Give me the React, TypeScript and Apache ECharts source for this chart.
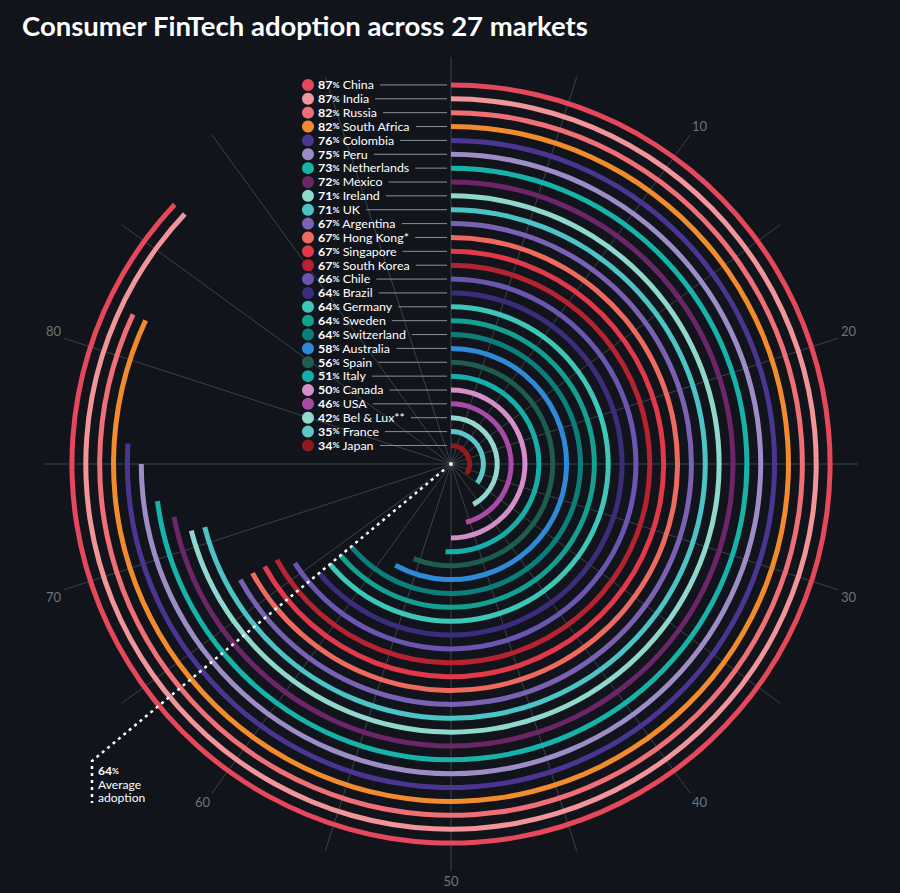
import React, { useEffect, useRef } from "react";
import * as echarts from "echarts";

const countries = [
  "China", "India", "Russia", "South Africa", "Colombia", "Peru", "Netherlands", "Mexico",
  "Ireland", "UK", "Argentina", "Hong Kong*", "Singapore", "South Korea", "Chile", "Brazil",
  "Germany", "Sweden", "Switzerland", "Australia", "Spain", "Italy", "Canada", "USA",
  "Bel & Lux**", "France", "Japan",
];
const adoption = [87, 87, 82, 82, 76, 75, 73, 72, 71, 71, 67, 67, 67, 67, 66, 64, 64, 64, 64, 58, 56, 51, 50, 46, 42, 35, 34];
const colors = [
  "#e5485a", "#f2959a", "#ee6f75", "#f28a2e", "#4a3591", "#9d8dc6", "#17b3a8", "#6b2667",
  "#8fd8cd", "#4cc4c5", "#7a62b3", "#ee6a5f", "#e2394a", "#b52330", "#6a55b0", "#3c2c7c",
  "#3ec6b8", "#13a091", "#0c7e7a", "#2e8ad6", "#1d5c4f", "#16aeaa", "#d48fc8", "#a94aa8",
  "#92d8cf", "#5ec6c9", "#8f1b20",
];
const angleTickLabels = [10, 20, 30, 40, 50, 60, 70, 80];
const averageAdoption = 64;
const averageLines = ["Average", "adoption"];
const title = "Consumer FinTech adoption across 27 markets";

const BG = "#11141b";
const FONT = "Lato, 'Open Sans', sans-serif";

export default function App() {
  const ref = useRef<HTMLDivElement>(null);

  useEffect(() => {
    document.body.style.margin = "0";
    document.body.style.background = BG;
    if (!ref.current) return;
    const chart = echarts.init(ref.current, undefined, { renderer: "svg" });

    const CX = 451;
    const CY = 464;
    const R_IN = 11.6;
    const R_OUT = 386;
    const R_GRID = 407;
    const N = countries.length;
    const band = (R_OUT - R_IN) / N;
    const ringR = (i: number) => R_OUT - (i + 0.5) * band;

    const canvas = document.createElement("canvas");
    const ctx = canvas.getContext("2d")!;
    const measure = (font: string, s: string) => {
      ctx.font = font;
      return ctx.measureText(s).width;
    };

    const graphics: any[] = [];
    graphics.push({
      type: "text",
      left: 22,
      top: 11,
      z: 10,
      style: { text: title, fill: "#ffffff", font: `bold 27.5px ${FONT}` },
    });

    const dotX = 308;
    const textX = 318;
    const SX = 1.08;
    const NUM_FONT = `bold 11.5px ${FONT}`;
    const PCT_FONT = `bold 8px ${FONT}`;
    const NAME_FONT = `11.5px ${FONT}`;
    countries.forEach((name, i) => {
      const y = CY - ringR(i);
      const w =
        (measure(NUM_FONT, String(adoption[i])) +
          measure(PCT_FONT, "%") +
          measure(NAME_FONT, " " + name)) * SX;
      graphics.push({
        type: "line",
        z: 5,
        shape: { x1: textX + w + 6, y1: y, x2: CX - 4, y2: y },
        style: { stroke: "#8b9098", lineWidth: 1 },
      });
      graphics.push({
        type: "circle",
        z: 6,
        shape: { cx: dotX, cy: y, r: 6 },
        style: { fill: colors[i] },
      });
      graphics.push({
        type: "text",
        z: 6,
        x: textX,
        y: y,
        scaleX: SX,
        style: {
          text: `{b|${adoption[i]}}{p|%}{n| ${name}}`,
          verticalAlign: "middle",
          rich: {
            b: { fill: "#ffffff", font: NUM_FONT },
            p: { fill: "#ffffff", font: PCT_FONT },
            n: { fill: "#ffffff", font: NAME_FONT },
          },
        },
      });
    });

    // average annotation
    const ang = (averageAdoption / 100) * Math.PI * 2;
    const dx = Math.sin(ang);
    const dy = -Math.cos(ang);
    const cornerX = 92;
    const t = (CX - cornerX) / -dx;
    const cornerY = CY + t * dy;
    graphics.push({
      type: "polyline",
      z: 8,
      shape: {
        points: [
          [CX + dx * 9, CY + dy * 9],
          [cornerX, cornerY],
          [cornerX, 803],
        ],
      },
      style: { stroke: "#ffffff", lineWidth: 2.5, lineDash: [3, 4], fill: null },
    });
    graphics.push({
      type: "circle",
      z: 8,
      shape: { cx: CX, cy: CY, r: 2 },
      style: { fill: "#ffffff" },
    });
    const A_FONT = `11px ${FONT}`;
    graphics.push({
      type: "text",
      z: 8,
      x: 98,
      y: 771,
      scaleX: 1.1,
      style: {
        text: `{b|${averageAdoption}}{p|%}`,
        verticalAlign: "middle",
        rich: {
          b: { fill: "#ffffff", font: `bold 11px ${FONT}` },
          p: { fill: "#ffffff", font: `bold 7.5px ${FONT}` },
        },
      },
    });
    averageLines.forEach((s, k) => {
      graphics.push({
        type: "text",
        z: 8,
        x: 98,
        y: 784.5 + k * 13.5,
        scaleX: 1.1,
        style: { text: s, fill: "#ffffff", font: A_FONT, verticalAlign: "middle" },
      });
    });

    chart.setOption({
      backgroundColor: BG,
      animation: false,
      polar: [
        { center: [CX, CY], radius: [0, R_GRID] },
        { center: [CX, CY], radius: [R_IN, R_OUT] },
      ],
      angleAxis: [
        {
          polarIndex: 0,
          type: "value",
          min: 0,
          max: 100,
          interval: 5,
          startAngle: 90,
          clockwise: true,
          axisLine: { show: false },
          axisTick: { show: false },
          splitLine: { show: true, lineStyle: { color: "#3d4149", width: 1 } },
          axisLabel: {
            show: true,
            color: "#6f747c",
            fontSize: 13,
            fontFamily: FONT,
            margin: 3,
            formatter: (v: number) => (angleTickLabels.includes(v) ? String(v) : ""),
          },
        },
        {
          polarIndex: 1,
          type: "value",
          min: 0,
          max: 100,
          startAngle: 90,
          clockwise: true,
          show: false,
        },
      ],
      radiusAxis: [
        { polarIndex: 0, type: "value", min: 0, max: 1, show: false },
        { polarIndex: 1, type: "category", data: countries, inverse: true, show: false },
      ],
      series: [
        {
          type: "bar",
          coordinateSystem: "polar",
          polarIndex: 1,
          barWidth: 5,
          data: adoption.map((v, i) => ({ value: v, name: countries[i], itemStyle: { color: colors[i] } })),
        },
      ],
      graphic: graphics,
    });

    return () => chart.dispose();
  }, []);

  return <div ref={ref} style={{ width: 900, height: 893 }} />;
}
